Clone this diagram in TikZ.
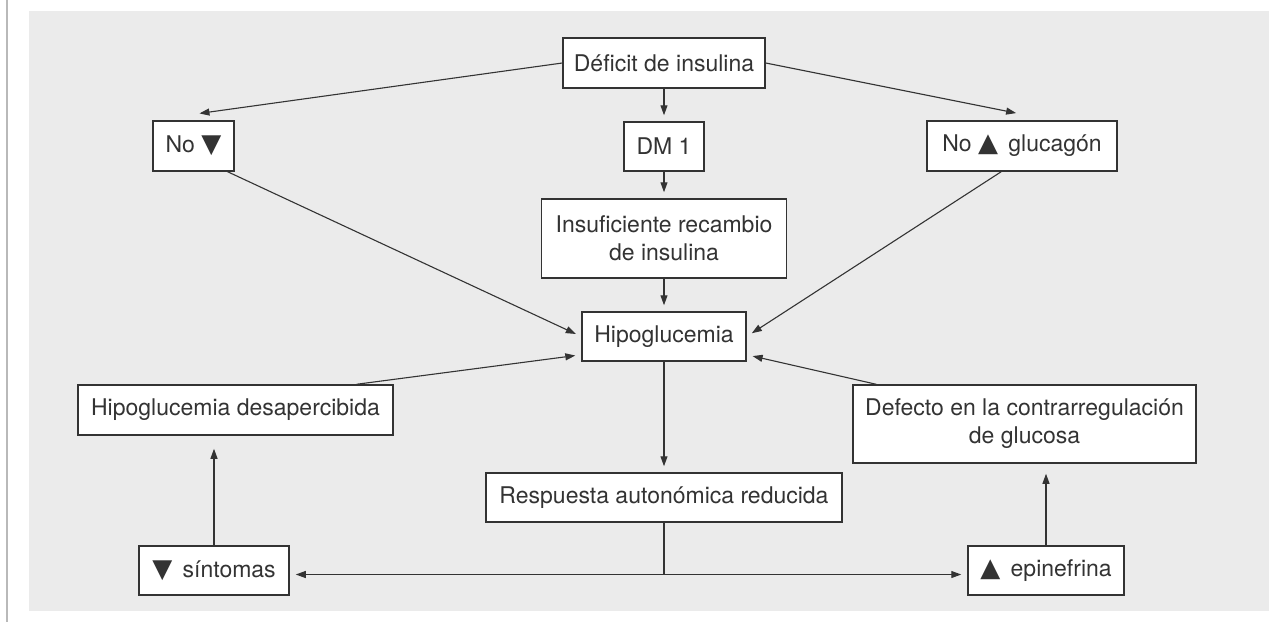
\documentclass[tikz,border=0pt]{standalone}
\usepackage{fontspec}
\setmainfont{TeX Gyre Heros}
\newfontfamily\symfont{DejaVu Sans}
\usetikzlibrary{arrows.meta}
\definecolor{boxline}{HTML}{333333}
\definecolor{panel}{HTML}{EBEBEB}
\definecolor{txt}{HTML}{333333}
\newcommand{\trup}{{\symfont\fontsize{26}{28}\selectfont\char"25B2}}
\newcommand{\trdown}{{\symfont\fontsize{26}{28}\selectfont\char"25BC}}
\tikzset{
  box/.style={draw=boxline, fill=white, line width=1.5pt, inner sep=0pt,
              text=txt, font=\fontsize{23}{28}\selectfont, align=center},
  arr/.style={-{Triangle[length=10pt,width=7pt]}, line width=1.1pt,
              draw=boxline, shorten >=6pt},
}

\begin{document}
\begin{tikzpicture}[x=1pt, y=-1pt]
    \useasboundingbox (0,0) rectangle (1277,625);
    \fill[panel] (29,11) rectangle (1269,611);
    \draw[gray!55, line width=2pt] (6.5,0) -- (6.5,622);

    % top row
    \node[box, minimum width=202pt, minimum height=50pt] (deficit) at (664,63) {Déficit de insulina};
    \node[box, minimum width=81pt, minimum height=50pt] (nodown) at (193.5,146) {No \trdown};
    \node[box, minimum width=80pt, minimum height=49pt] (dm) at (664,146.5) {DM 1};
    \node[box, minimum width=190pt, minimum height=50pt] (noup) at (1022,146) {No \trup\hspace{4pt} glucagón};
    \node[box, minimum width=245pt, minimum height=79pt] (insuf) at (664,238.5) {Insuficiente recambio\\de insulina};
    % middle
    \node[box, minimum width=164pt, minimum height=49pt] (hipo) at (664,336.5) {Hipoglucemia};
    \node[box, minimum width=315pt, minimum height=50pt] (desap) at (235.5,410) {Hipoglucemia desapercibida};
    \node[box, minimum width=343pt, minimum height=78pt] (defecto) at (1024.5,424) {Defecto en la contrarregulación\\de glucosa};
    % bottom
    \node[box, minimum width=356pt, minimum height=49pt] (resp) at (664,497.5) {Respuesta autonómica reducida};
    \node[box, minimum width=150pt, minimum height=49pt] (sint) at (214,570.5) {\trdown\hspace{4pt} síntomas};
    \node[box, minimum width=156pt, minimum height=49pt] (epi) at (1046,570.5) {\trup\hspace{4pt} epinefrina};

    \draw[arr] (deficit.west) -- ([yshift=6pt]nodown.north);
    \draw[arr] (deficit.east) -- ([yshift=6pt]noup.north);
    \draw[arr] (deficit.south) -- (dm.north);
    \draw[arr] (dm.south) -- (insuf.north);
    \draw[arr] (insuf.south) -- (hipo.north);
    \draw[arr] (nodown.-37) -- (hipo.west);
    \draw[arr] (noup.-129) -- (hipo.east);
    \draw[arr] (desap.12) -- ([yshift=7pt]hipo.south west);
    \draw[arr] (defecto.165) -- ([yshift=7pt]hipo.south east);
    \draw[arr] (hipo.south) -- (resp.north);
    \draw[arr] (resp.south) |- ([yshift=-4pt]sint.east);
    \draw[arr] (resp.south) |- ([yshift=-4pt]epi.west);
    \draw[arr, shorten >=13pt] (sint.north) -- (sint.north |- desap.south);
    \draw[arr, shorten >=10pt] (epi.north) -- (epi.north |- defecto.south);
\end{tikzpicture}
\end{document}
